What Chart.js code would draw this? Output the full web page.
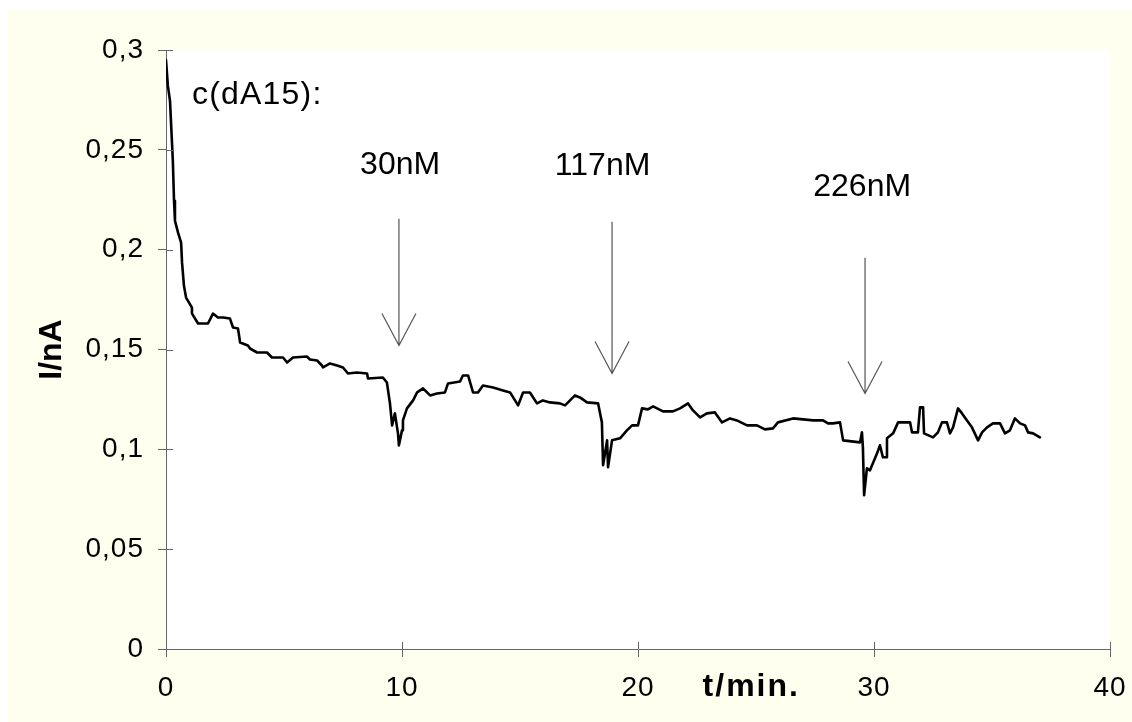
<!DOCTYPE html>
<html>
<head>
<meta charset="utf-8">
<script src="https://cdn.jsdelivr.net/npm/chart.js@4.4.1/dist/chart.umd.min.js"></script>
<style>
  html,body{margin:0;padding:0;background:#ffffff;}
  #wrap{width:1132px;height:722px;position:relative;}
</style>
</head>
<body>
<div id="wrap"><canvas id="c" width="1132" height="722"></canvas></div>
<script>
// ---- data ----
const timeMin = [0,0.08,0.17,0.25,0.29,0.34,0.38,0.51,0.64,0.68,0.76,0.85,1.10,1.10,1.36,1.78,1.99,2.20,2.42,2.71,2.84,3.05,3.14,3.47,3.56,3.86,4.28,4.49,4.96,5.13,5.38,5.97,6.10,6.40,6.61,6.65,6.95,7.25,7.50,7.71,8.09,8.52,8.56,9.19,9.36,9.49,9.58,9.70,9.83,9.87,10.0,10.04,10.21,10.47,10.64,10.89,11.19,11.48,11.82,11.95,12.46,12.58,12.80,13.01,13.22,13.43,13.86,14.28,14.58,14.92,15.13,15.42,15.72,15.97,16.27,16.69,16.91,17.33,17.54,17.84,18.31,18.47,18.52,18.69,18.73,18.90,19.24,19.53,19.75,20.0,20.17,20.42,20.64,21.06,21.48,21.78,22.12,22.33,22.63,22.92,23.26,23.56,23.90,24.19,24.62,25.04,25.38,25.72,25.93,26.57,27.42,27.84,28.05,28.26,28.56,28.69,29.41,29.49,29.53,29.58,29.70,29.83,30.13,30.25,30.38,30.55,30.55,30.81,31.02,31.53,31.61,31.86,31.95,32.08,32.12,32.50,32.71,32.88,33.09,33.22,33.35,33.56,33.73,33.94,34.15,34.41,34.58,34.79,35.04,35.34,35.55,35.76,35.97,36.19,36.40,36.53,36.74,37.03];
const currentNA = [0.295,0.282,0.2745,0.2545,0.2445,0.2245,0.2145,0.2085,0.2035,0.1935,0.182,0.176,0.171,0.168,0.163,0.163,0.168,0.166,0.166,0.1655,0.161,0.1605,0.1535,0.152,0.1505,0.1485,0.1485,0.146,0.146,0.1435,0.146,0.1465,0.145,0.1445,0.142,0.141,0.143,0.142,0.141,0.138,0.1385,0.138,0.1355,0.136,0.1335,0.123,0.112,0.118,0.108,0.102,0.1095,0.1145,0.1205,0.1245,0.1285,0.1305,0.127,0.128,0.1285,0.133,0.134,0.137,0.137,0.1285,0.1285,0.132,0.131,0.1295,0.1285,0.122,0.1285,0.1285,0.123,0.1245,0.1235,0.123,0.122,0.127,0.126,0.1235,0.123,0.1135,0.092,0.1045,0.091,0.1045,0.1055,0.1095,0.112,0.112,0.1205,0.12,0.1215,0.119,0.119,0.1205,0.123,0.1195,0.116,0.118,0.1185,0.1135,0.1155,0.1145,0.112,0.112,0.110,0.1105,0.1135,0.1155,0.1145,0.1145,0.113,0.113,0.1135,0.1045,0.1035,0.1085,0.101,0.077,0.0905,0.0895,0.098,0.102,0.096,0.096,0.1055,0.108,0.1135,0.1135,0.1085,0.1085,0.121,0.121,0.108,0.106,0.1085,0.1135,0.1135,0.108,0.111,0.1205,0.118,0.1145,0.111,0.1045,0.1085,0.111,0.113,0.113,0.108,0.1095,0.1155,0.113,0.112,0.1085,0.108,0.106];

const xTicks = [0, 10, 20, 30, 40];
const yTicks = [0, 0.05, 0.1, 0.15, 0.2, 0.25, 0.3];

const arrowT = [9.87, 18.9, 29.62];
const arrowTopNA = [0.2155, 0.214, 0.196];
const arrowTipNA = [0.152, 0.138, 0.128];

const concLabels = ["30nM", "117nM", "226nM"];
const concLabelT = [9.92, 18.5, 29.5];
const concLabelNA = [0.238, 0.2375, 0.227];

const headerLabel = "c(dA15):";
const headerT = 1.1;
const headerNA = 0.273;

const xTitle = "t/min.";
const yTitle = "I/nA";

// ---- drawing ----
const FONT = "'Liberation Sans', Arial, sans-serif";

const bgPlugin = {
  id: 'bg',
  beforeDraw(chart) {
    const {ctx, chartArea: a} = chart;
    ctx.save();
    ctx.fillStyle = '#ffffff';
    ctx.fillRect(0, 0, chart.width, chart.height);
    ctx.fillStyle = '#fffff0';
    ctx.fillRect(8, 10, chart.width - 8, chart.height - 10);
    ctx.fillStyle = '#ffffff';
    ctx.fillRect(a.left, a.top, a.right - a.left, a.bottom - a.top);
    ctx.restore();
    if ('letterSpacing' in ctx) ctx.letterSpacing = '1px';
  },
  afterDraw(chart) {
    const {ctx, chartArea: a, scales: {x, y}} = chart;
    ctx.save();
    if ('letterSpacing' in ctx) ctx.letterSpacing = '0px';
    // inner halves of crossing ticks
    ctx.strokeStyle = '#666666';
    ctx.lineWidth = 1;
    ctx.beginPath();
    yTicks.forEach(v => { const py = Math.round(y.getPixelForValue(v)) + 0.5; ctx.moveTo(a.left, py); ctx.lineTo(a.left + 7, py); });
    xTicks.forEach(v => { const px = Math.round(x.getPixelForValue(v)) + 0.5; ctx.moveTo(px, a.bottom); ctx.lineTo(px, a.bottom - 7); });
    ctx.stroke();

    // arrows
    ctx.strokeStyle = '#555555';
    ctx.lineWidth = 1.2;
    arrowT.forEach((t, i) => {
      const px = x.getPixelForValue(t);
      const top = y.getPixelForValue(arrowTopNA[i]);
      const tip = y.getPixelForValue(arrowTipNA[i]);
      ctx.beginPath();
      ctx.moveTo(px, top); ctx.lineTo(px, tip);
      ctx.moveTo(px - 17, tip - 32); ctx.lineTo(px, tip); ctx.lineTo(px + 17, tip - 32);
      ctx.stroke();
    });

    // annotation texts
    ctx.fillStyle = '#000000';
    ctx.textBaseline = 'alphabetic';
    ctx.font = '32px ' + FONT;
    ctx.textAlign = 'center';
    concLabels.forEach((s, i) => {
      ctx.fillText(s, x.getPixelForValue(concLabelT[i]), y.getPixelForValue(concLabelNA[i]));
    });
    ctx.textAlign = 'left';
    ctx.font = '32px ' + FONT;
    if ('letterSpacing' in ctx) ctx.letterSpacing = '1.2px';
    ctx.fillText(headerLabel, x.getPixelForValue(headerT), y.getPixelForValue(headerNA));

    // axis titles
    ctx.font = 'bold 32px ' + FONT;
    if ('letterSpacing' in ctx) ctx.letterSpacing = '2px';
    ctx.textAlign = 'center';
    ctx.fillText(xTitle, a.left + (a.right - a.left) * 0.62, 696);
    if ('letterSpacing' in ctx) ctx.letterSpacing = '0px';
    ctx.translate(61, (a.top + a.bottom) / 2);
    ctx.rotate(-Math.PI / 2);
    ctx.fillText(yTitle, 0, 0);
    ctx.restore();
  }
};

new Chart(document.getElementById('c'), {
  type: 'line',
  data: {
    datasets: [{
      data: timeMin.map((t, i) => ({x: t, y: currentNA[i]})),
      borderColor: '#000000',
      borderWidth: 2.6,
      borderJoinStyle: 'round',
      borderCapStyle: 'round',
      pointRadius: 0,
      tension: 0,
      fill: false
    }]
  },
  options: {
    responsive: false,
    animation: false,
    devicePixelRatio: 1,
    layout: {padding: {top: 50, right: 22, left: 0, bottom: 0}},
    plugins: {legend: {display: false}, tooltip: {enabled: false}},
    scales: {
      x: {
        type: 'linear', min: 0, max: 40,
        afterBuildTicks: s => { s.ticks = xTicks.map(v => ({value: v})); },
        afterFit: s => { s.height = 73; s.paddingLeft = 0; s.paddingRight = 0; },
        grid: {drawOnChartArea: false, drawTicks: true, tickLength: 8, color: '#666666', tickColor: '#666666'},
        border: {display: true, color: '#666666', width: 1},
        ticks: {color: '#000000', font: {family: FONT, size: 28}, padding: 14, maxRotation: 0, callback: v => String(v)}
      },
      y: {
        type: 'linear', min: 0, max: 0.3,
        afterBuildTicks: s => { s.ticks = yTicks.map(v => ({value: v})); },
        afterFit: s => { s.width = 166; s.paddingTop = 0; s.paddingBottom = 0; },
        grid: {drawOnChartArea: false, drawTicks: true, tickLength: 8, color: '#666666', tickColor: '#666666'},
        border: {display: true, color: '#666666', width: 1},
        ticks: {color: '#000000', font: {family: FONT, size: 28}, padding: 14,
          callback: v => String(Math.round(v * 100) / 100).replace('.', ',')}
      }
    }
  },
  plugins: [bgPlugin]
});
</script>
</body>
</html>
